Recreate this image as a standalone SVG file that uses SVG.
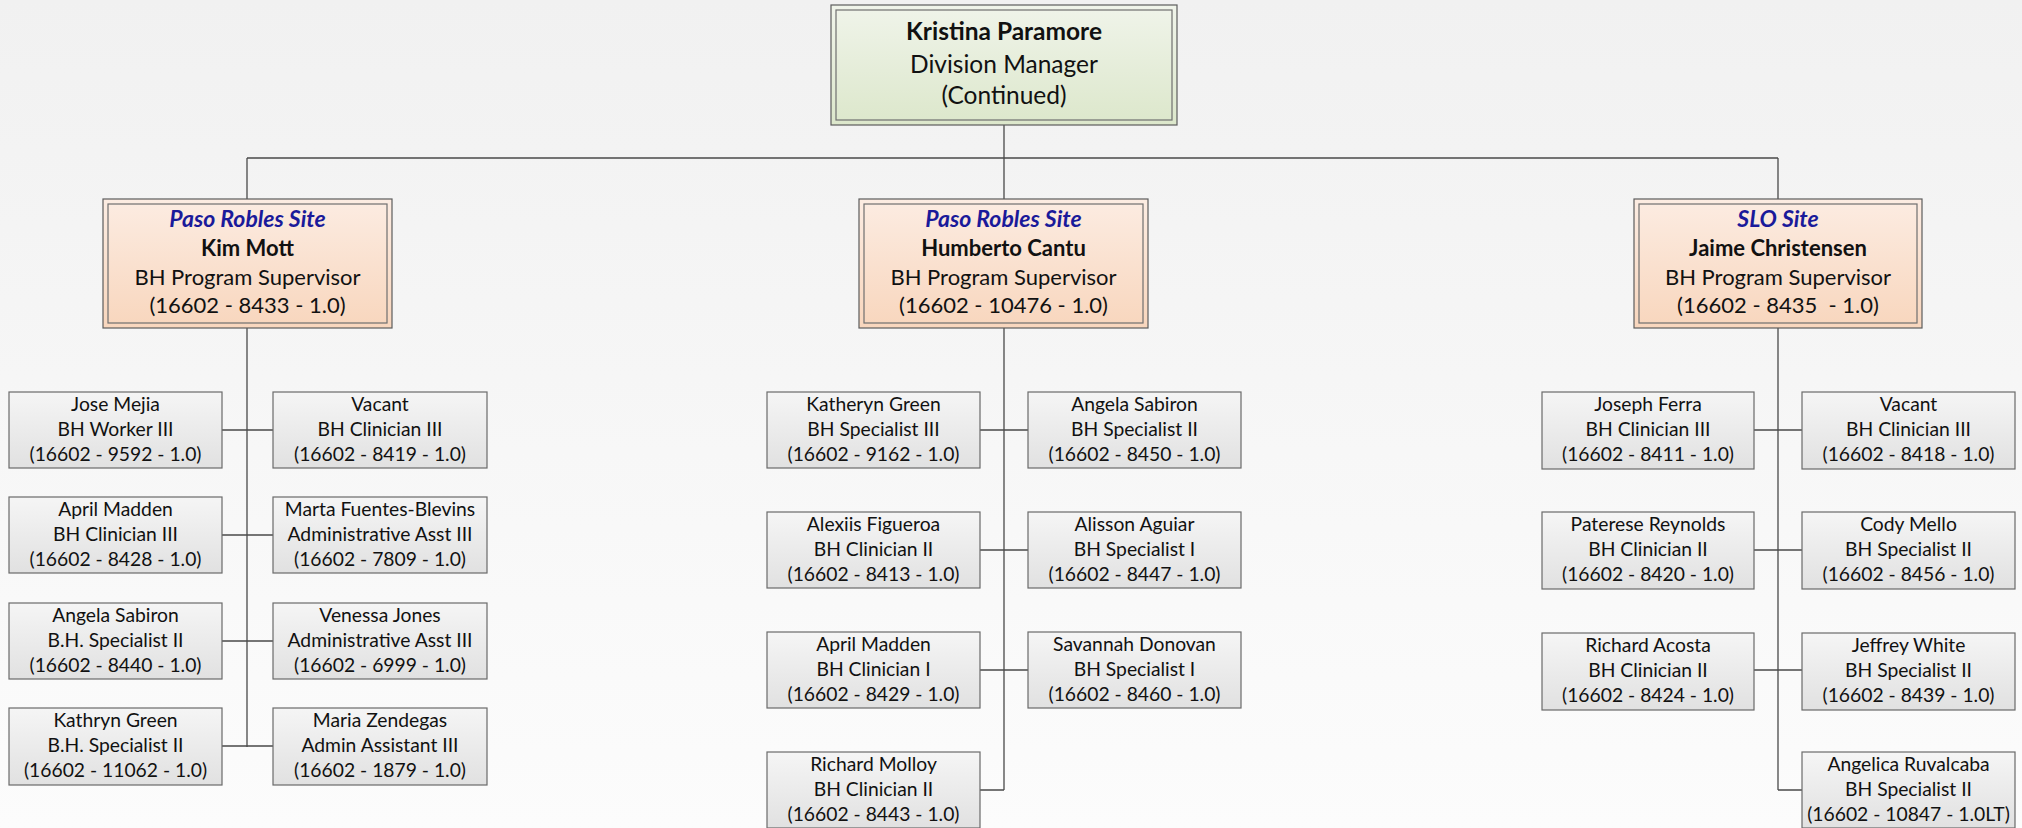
<svg xmlns="http://www.w3.org/2000/svg" width="2022" height="828" viewBox="0 0 2022 828">
<defs>
<linearGradient id="bg" x1="0" y1="0" x2="0" y2="1"><stop offset="0" stop-color="#f1f1f1"/><stop offset="1" stop-color="#fcfcfc"/></linearGradient>
<linearGradient id="gLeaf" x1="0" y1="0" x2="0" y2="1"><stop offset="0" stop-color="#f5f5f5"/><stop offset="1" stop-color="#e1e1e1"/></linearGradient>
<linearGradient id="gMid" x1="0" y1="0" x2="0" y2="1"><stop offset="0" stop-color="#fcece2"/><stop offset="1" stop-color="#f8d6bd"/></linearGradient>
<linearGradient id="gTop" x1="0" y1="0" x2="0" y2="1"><stop offset="0" stop-color="#f0f4ea"/><stop offset="1" stop-color="#dce7cb"/></linearGradient>
</defs>
<style>
text{font-family:Lato,"Liberation Sans",sans-serif;text-anchor:middle;fill:#111;white-space:pre}
.leaf rect{fill:url(#gLeaf);stroke:#6a6a6a;stroke-width:1.2}
.leaf text{font-size:19.3px}
.mid .o{fill:url(#gMid);stroke:#5c5c5c;stroke-width:1.2}
.mid .i{fill:none;stroke:#6f6f6f;stroke-width:1.2}
.mid text{font-size:22px}
.mid text.site{font-size:23px}
.top .o{fill:url(#gTop);stroke:#5c5c5c;stroke-width:1.2}
.top .i{fill:none;stroke:#6f6f6f;stroke-width:1.2}
.top text{font-size:24.5px}
.b{font-weight:bold}
.site{font-weight:bold;font-style:italic;fill:#1a1a9a}
#connectors path{fill:none;stroke:#4a4a4a;stroke-width:1.3}
</style>
<rect width="2022" height="828" fill="url(#bg)"/>
<g id="connectors">
<path d="M1004 125V158M247 158H1778M247 158V199M1004 158V199M1778 158V199"/>
<path d="M247 328V747M222 430H273M222 535H273M222 641H273M222 746H273"/>
<path d="M1004 328V790M980 430H1028M980 550H1028M980 670H1028M980 790H1004"/>
<path d="M1778 328V790M1754 430H1802M1754 550H1802M1754 670H1802M1778 790H1802"/>
</g>
<g id="n-top" class="top">
<rect class="o" x="831" y="5" width="346" height="120"/>
<rect class="i" x="836" y="10" width="336" height="110"/>
<text x="1004" y="40" class="b">Kristina Paramore</text>
<text x="1004" y="73">Division Manager</text>
<text x="1004" y="104">(Continued)</text>
</g>
<g id="n-kim" class="mid">
<rect class="o" x="103" y="199" width="289" height="129"/>
<rect class="i" x="108" y="204" width="279" height="119"/>
<text x="247.5" y="227" class="site">Paso Robles Site</text>
<text x="247.5" y="256" class="b">Kim Mott</text>
<text x="247.5" y="285">BH Program Supervisor</text>
<text x="247.5" y="313">(16602 - 8433 - 1.0)</text>
</g>
<g id="n-humberto" class="mid">
<rect class="o" x="859" y="199" width="289" height="129"/>
<rect class="i" x="864" y="204" width="279" height="119"/>
<text x="1003.5" y="227" class="site">Paso Robles Site</text>
<text x="1003.5" y="256" class="b">Humberto Cantu</text>
<text x="1003.5" y="285">BH Program Supervisor</text>
<text x="1003.5" y="313">(16602 - 10476 - 1.0)</text>
</g>
<g id="n-jaime" class="mid">
<rect class="o" x="1634" y="199" width="288" height="129"/>
<rect class="i" x="1639" y="204" width="278" height="119"/>
<text x="1778" y="227" class="site">SLO Site</text>
<text x="1778" y="256" class="b">Jaime Christensen</text>
<text x="1778" y="285">BH Program Supervisor</text>
<text x="1778" y="313">(16602 - 8435  - 1.0)</text>
</g>
<g id="n-jose" class="leaf"><rect x="9" y="392" width="213" height="76"/><text x="115.5" y="411">Jose Mejia</text><text x="115.5" y="436">BH Worker III</text><text x="115.5" y="461">(16602 - 9592 - 1.0)</text></g>
<g id="n-vacant1" class="leaf"><rect x="273" y="392" width="214" height="76"/><text x="380" y="411">Vacant</text><text x="380" y="436">BH Clinician III</text><text x="380" y="461">(16602 - 8419 - 1.0)</text></g>
<g id="n-april1" class="leaf"><rect x="9" y="497" width="213" height="76"/><text x="115.5" y="516">April Madden</text><text x="115.5" y="541">BH Clinician III</text><text x="115.5" y="566">(16602 - 8428 - 1.0)</text></g>
<g id="n-marta" class="leaf"><rect x="273" y="497" width="214" height="76"/><text x="380" y="516">Marta Fuentes-Blevins</text><text x="380" y="541">Administrative Asst III</text><text x="380" y="566">(16602 - 7809 - 1.0)</text></g>
<g id="n-angela1" class="leaf"><rect x="9" y="603" width="213" height="76"/><text x="115.5" y="622">Angela Sabiron</text><text x="115.5" y="647">B.H. Specialist II</text><text x="115.5" y="672">(16602 - 8440 - 1.0)</text></g>
<g id="n-venessa" class="leaf"><rect x="273" y="603" width="214" height="76"/><text x="380" y="622">Venessa Jones</text><text x="380" y="647">Administrative Asst III</text><text x="380" y="672">(16602 - 6999 - 1.0)</text></g>
<g id="n-kathryn" class="leaf"><rect x="9" y="708" width="213" height="77"/><text x="115.5" y="727">Kathryn Green</text><text x="115.5" y="752">B.H. Specialist II</text><text x="115.5" y="777">(16602 - 11062 - 1.0)</text></g>
<g id="n-maria" class="leaf"><rect x="273" y="708" width="214" height="77"/><text x="380" y="727">Maria Zendegas</text><text x="380" y="752">Admin Assistant III</text><text x="380" y="777">(16602 - 1879 - 1.0)</text></g>
<g id="n-katheryn" class="leaf"><rect x="767" y="392" width="213" height="76"/><text x="873.5" y="411">Katheryn Green</text><text x="873.5" y="436">BH Specialist III</text><text x="873.5" y="461">(16602 - 9162 - 1.0)</text></g>
<g id="n-angela2" class="leaf"><rect x="1028" y="392" width="213" height="76"/><text x="1134.5" y="411">Angela Sabiron</text><text x="1134.5" y="436">BH Specialist II</text><text x="1134.5" y="461">(16602 - 8450 - 1.0)</text></g>
<g id="n-alexiis" class="leaf"><rect x="767" y="512" width="213" height="76"/><text x="873.5" y="531">Alexiis Figueroa</text><text x="873.5" y="556">BH Clinician II</text><text x="873.5" y="581">(16602 - 8413 - 1.0)</text></g>
<g id="n-alisson" class="leaf"><rect x="1028" y="512" width="213" height="76"/><text x="1134.5" y="531">Alisson Aguiar</text><text x="1134.5" y="556">BH Specialist I</text><text x="1134.5" y="581">(16602 - 8447 - 1.0)</text></g>
<g id="n-april2" class="leaf"><rect x="767" y="632" width="213" height="76"/><text x="873.5" y="651">April Madden</text><text x="873.5" y="676">BH Clinician I</text><text x="873.5" y="701">(16602 - 8429 - 1.0)</text></g>
<g id="n-savannah" class="leaf"><rect x="1028" y="632" width="213" height="76"/><text x="1134.5" y="651">Savannah Donovan</text><text x="1134.5" y="676">BH Specialist I</text><text x="1134.5" y="701">(16602 - 8460 - 1.0)</text></g>
<g id="n-richardm" class="leaf"><rect x="767" y="752" width="213" height="76"/><text x="873.5" y="771">Richard Molloy</text><text x="873.5" y="796">BH Clinician II</text><text x="873.5" y="821">(16602 - 8443 - 1.0)</text></g>
<g id="n-joseph" class="leaf"><rect x="1542" y="392" width="212" height="77"/><text x="1648" y="411">Joseph Ferra</text><text x="1648" y="436">BH Clinician III</text><text x="1648" y="461">(16602 - 8411 - 1.0)</text></g>
<g id="n-vacant2" class="leaf"><rect x="1802" y="392" width="213" height="77"/><text x="1908.5" y="411">Vacant</text><text x="1908.5" y="436">BH Clinician III</text><text x="1908.5" y="461">(16602 - 8418 - 1.0)</text></g>
<g id="n-paterese" class="leaf"><rect x="1542" y="512" width="212" height="77"/><text x="1648" y="531">Paterese Reynolds</text><text x="1648" y="556">BH Clinician II</text><text x="1648" y="581">(16602 - 8420 - 1.0)</text></g>
<g id="n-cody" class="leaf"><rect x="1802" y="512" width="213" height="77"/><text x="1908.5" y="531">Cody Mello</text><text x="1908.5" y="556">BH Specialist II</text><text x="1908.5" y="581">(16602 - 8456 - 1.0)</text></g>
<g id="n-richarda" class="leaf"><rect x="1542" y="633" width="212" height="77"/><text x="1648" y="652">Richard Acosta</text><text x="1648" y="677">BH Clinician II</text><text x="1648" y="702">(16602 - 8424 - 1.0)</text></g>
<g id="n-jeffrey" class="leaf"><rect x="1802" y="633" width="213" height="77"/><text x="1908.5" y="652">Jeffrey White</text><text x="1908.5" y="677">BH Specialist II</text><text x="1908.5" y="702">(16602 - 8439 - 1.0)</text></g>
<g id="n-angelica" class="leaf"><rect x="1802" y="752" width="213" height="76"/><text x="1908.5" y="771">Angelica Ruvalcaba</text><text x="1908.5" y="796">BH Specialist II</text><text x="1908.5" y="821">(16602 - 10847 - 1.0LT)</text></g>
</svg>
